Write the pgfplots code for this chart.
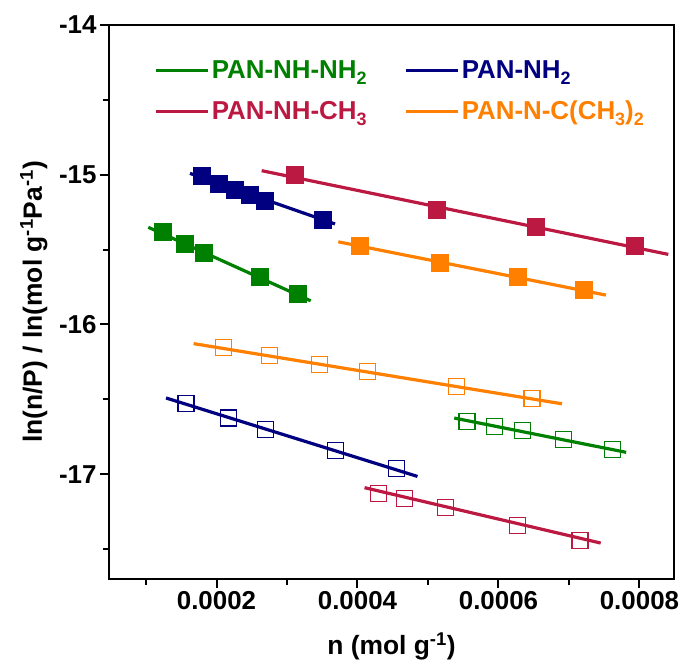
\documentclass[border=0pt]{standalone}
\usepackage{fontspec}
\setmainfont{Liberation Sans}
\usepackage{pgfplots}
\pgfplotsset{compat=1.18}
\definecolor{cgreen}{RGB}{0,128,0}
\definecolor{cnavy}{RGB}{0,0,128}
\definecolor{ccrim}{RGB}{188,25,66}
\definecolor{corange}{RGB}{255,128,0}
\newcommand{\dsub}[1]{\raisebox{-0.45ex}{\fontsize{18}{20}\selectfont #1}}
\begin{document}
\begin{tikzpicture}
\path[use as bounding box] (0bp,0bp) rectangle (684bp,668bp);
\begin{axis}[
  at={(109bp,89bp)}, anchor=south west,
  scale only axis, width=565bp, height=554bp,
  xmin=0.0000475, xmax=0.000849, ymin=-17.70, ymax=-14,
  scaled x ticks=false, scaled y ticks=false,
  xtick={0.0002,0.0004,0.0006,0.0008},
  xticklabels={0.0002,0.0004,0.0006,0.0008},
  minor xtick={0.0001,0.0003,0.0005,0.0007},
  ytick={-17,-16,-15,-14},
  yticklabels={-17,-16,-15,-14},
  minor ytick={-17.5,-16.5,-15.5,-14.5},
  xtick pos=bottom, ytick pos=left, tick align=outside,
  major tick length=9bp, minor tick length=6bp,
  every tick/.style={black, line width=2bp},
  axis line style={line width=2.2bp},
  ticklabel style={font=\fontsize{26}{30}\selectfont\bfseries},
  xlabel={n (mol g\textsuperscript{-1})},
  ylabel={ln(n/P) / ln(mol g\textsuperscript{-1}Pa\textsuperscript{-1})},
  label style={font=\fontsize{26.5}{30}\selectfont\bfseries},
  xlabel style={at={(axis description cs:0.5,0)}, anchor=north, yshift=-50bp},
  ylabel style={at={(axis description cs:0,0.5)}, anchor=south, xshift=0bp, yshift=58bp},
  legend columns=2,
  legend cell align=left,
  legend image code/.code={\draw[#1] (0bp,0bp) -- (52bp,0bp);},
  legend style={draw=none, fill=none, at={(axis description cs:0.075,0.943)}, anchor=north west,
    font=\fontsize{26}{30}\selectfont\bfseries, row sep=17bp,
    /tikz/every even column/.append style={column sep=36bp}},
]
% fitted lines (legend)
\addplot[cgreen, line width=3.2bp] coordinates {(1.033e-4,-15.351) (3.336e-4,-15.842)};
\addlegendentry{\textcolor{cgreen}{PAN-NH-NH\dsub{2}}}
\addplot[cnavy, line width=3.2bp] coordinates {(1.624e-4,-14.991) (3.681e-4,-15.329)};
\addlegendentry{\textcolor{cnavy}{PAN-NH\dsub{2}}}
\addplot[ccrim, line width=3.2bp] coordinates {(2.641e-4,-14.973) (8.409e-4,-15.532)};
\addlegendentry{\textcolor{ccrim}{PAN-NH-CH\dsub{3}}}
\addplot[corange, line width=3.2bp] coordinates {(3.728e-4,-15.448) (7.525e-4,-15.804)};
\addlegendentry{\textcolor{corange}{PAN-N-C(CH\dsub{3})\dsub{2}}}
% open series fitted lines
\addplot[forget plot, corange, line width=3.2bp] coordinates {(1.675e-4,-16.128) (6.902e-4,-16.530)};
\addplot[forget plot, cnavy, line width=3.2bp] coordinates {(1.284e-4,-16.491) (4.851e-4,-17.015)};
\addplot[forget plot, cgreen, line width=3.2bp] coordinates {(5.372e-4,-16.625) (7.811e-4,-16.854)};
\addplot[forget plot, ccrim, line width=3.2bp] coordinates {(4.1e-4,-17.09) (7.45e-4,-17.46)};
% filled markers
\addplot[forget plot, only marks, mark=square*, mark size=8.5bp, cnavy] coordinates {
 (1.790e-4,-15.009) (2.035e-4,-15.057) (2.262e-4,-15.098) (2.475e-4,-15.136) (2.688e-4,-15.174) (3.506e-4,-15.298)};
\addplot[forget plot, only marks, mark=square*, mark size=8.5bp, cgreen] coordinates {
 (1.231e-4,-15.381) (1.543e-4,-15.458) (1.813e-4,-15.518) (2.617e-4,-15.681) (3.146e-4,-15.797)};
\addplot[forget plot, only marks, mark=square*, mark size=8.5bp, ccrim] coordinates {
 (3.113e-4,-15.002) (5.123e-4,-15.236) (6.532e-4,-15.347) (7.926e-4,-15.476)};
\addplot[forget plot, only marks, mark=square*, mark size=8.5bp, corange] coordinates {
 (4.035e-4,-15.476) (5.170e-4,-15.588) (6.267e-4,-15.681) (7.203e-4,-15.770)};
% open markers
\addplot[forget plot, only marks, mark=square, mark size=8bp, line width=1.1bp, corange] coordinates {
 (2.102e-4,-16.156) (2.756e-4,-16.208) (3.467e-4,-16.267) (4.139e-4,-16.317) (5.406e-4,-16.417) (6.475e-4,-16.493)};
\addplot[forget plot, only marks, mark=square, mark size=8bp, line width=1.1bp, cnavy] coordinates {
 (1.567e-4,-16.530) (2.166e-4,-16.625) (2.692e-4,-16.699) (3.688e-4,-16.844) (4.556e-4,-16.960)};
\addplot[forget plot, only marks, mark=square, mark size=8bp, line width=1.1bp, cgreen] coordinates {
 (5.553e-4,-16.648) (5.946e-4,-16.680) (6.339e-4,-16.710) (6.928e-4,-16.768) (7.614e-4,-16.838)};
\addplot[forget plot, only marks, mark=square, mark size=8bp, line width=1.1bp, ccrim] coordinates {
 (4.292e-4,-17.126) (4.670e-4,-17.161) (5.244e-4,-17.223) (6.275e-4,-17.343) (7.157e-4,-17.441)};
\end{axis}
\end{tikzpicture}
\end{document}
